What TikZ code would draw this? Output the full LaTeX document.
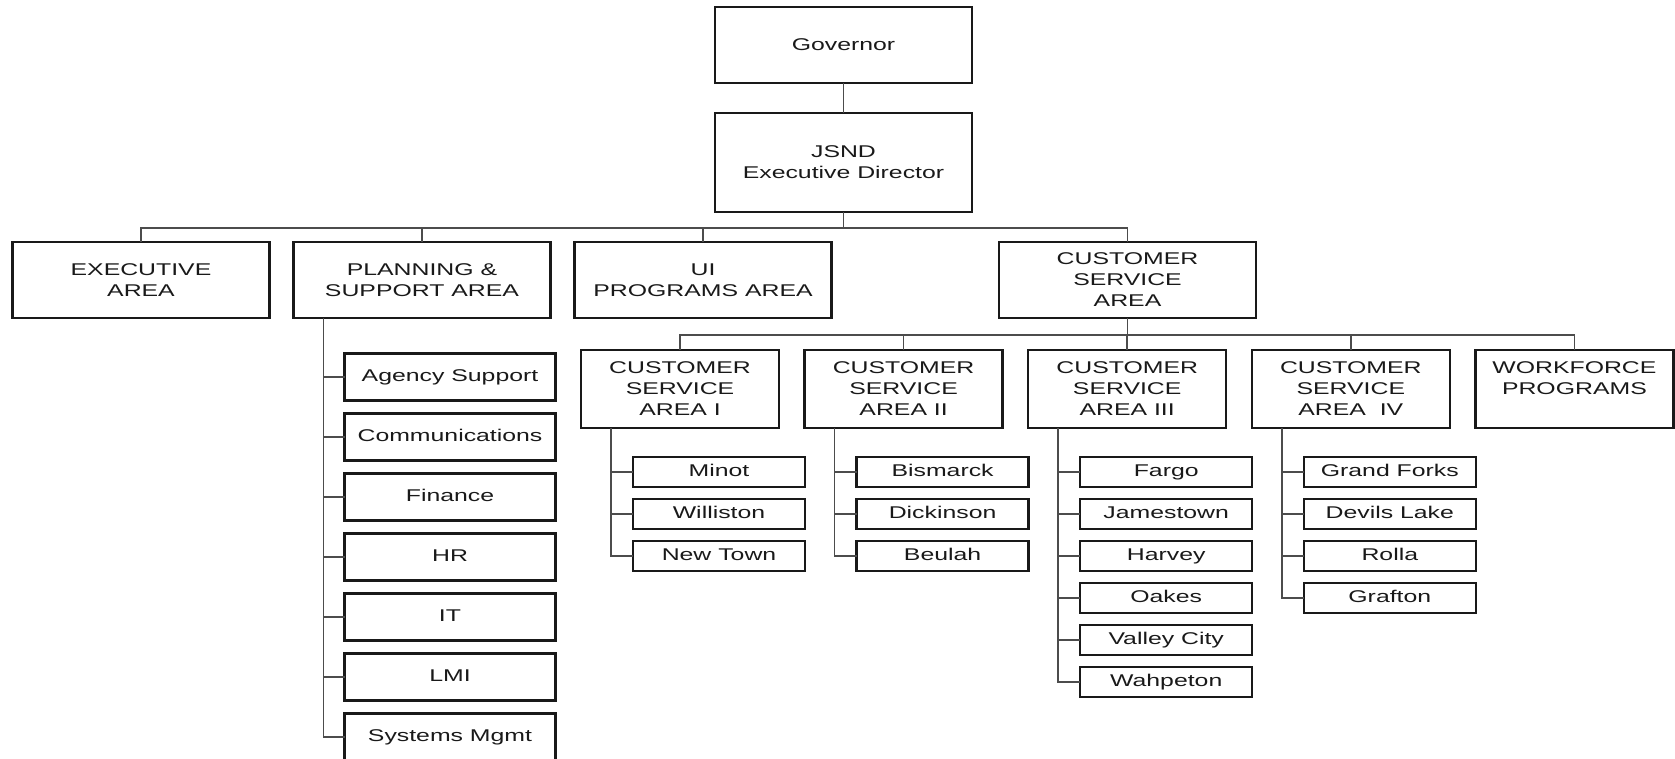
\documentclass[tikz,border=0pt]{standalone}
\usepackage{fontspec}
\setmainfont{Liberation Sans}[FakeStretch=1.46]
\usetikzlibrary{positioning}

\begin{document}
\begin{tikzpicture}[
x=1pt, y=-1pt,
font=\fontsize{17}{21}\selectfont,
node distance = 12pt and 52pt,
box/.style={rectangle, draw=black!90, line width=2.4pt, inner sep=0pt, outer sep=0pt, align=center, text=black!90},
head/.style={box, minimum width=257pt, minimum height=76pt},
area/.style={box, minimum width=198pt, minimum height=78pt},
unit/.style={box, minimum width=211pt, minimum height=47pt, text height=12pt, text depth=3.6pt},
office/.style={box, minimum width=172pt, minimum height=30pt, text height=12pt, text depth=3.6pt},
link/.style={draw=black!70, line width=1.5pt}]

\useasboundingbox (0,0) rectangle (1675,759);

\node[head] (gov) at (843.5,45) {Governor};
\node[head, minimum height=99pt] (jsnd) [below=30pt of gov] {JSND\\Executive Director};

\node[head] (exec) at (141,280) {EXECUTIVE\\AREA};
\node[head] (plan) at (422,280) {PLANNING \&\\SUPPORT AREA};
\node[head] (ui) at (703,280) {UI\\PROGRAMS AREA};
\node[head] (csa) at (1127.5,280) {CUSTOMER\\SERVICE\\AREA};

\node[area] (csa1) at (680,389) {CUSTOMER\\SERVICE\\AREA I};
\node[area] (csa2) [right=25.6pt of csa1] {CUSTOMER\\SERVICE\\AREA II};
\node[area] (csa3) [right=25.6pt of csa2] {CUSTOMER\\SERVICE\\AREA III};
\node[area] (csa4) [right=25.6pt of csa3] {CUSTOMER\\SERVICE\\AREA\ \ IV};
\node[area] (wf) [right=25.6pt of csa4] {WORKFORCE\\PROGRAMS\\\mbox{}};

% planning & support units
\node[unit] (agency) [below right=35.5pt and 51pt of plan.south west] {Agency Support};
\node[unit] (comms) [below=13pt of agency] {Communications};
\node[unit] (finance) [below=13pt of comms] {Finance};
\node[unit] (hr) [below=13pt of finance] {HR};
\node[unit] (it) [below=13pt of hr] {IT};
\node[unit] (lmi) [below=13pt of it] {LMI};
\node[unit] (sysmgmt) [below=13pt of lmi] {Systems Mgmt};

% offices
\node[office] (minot) [below right=29pt and 52pt of csa1.south west] {Minot};
\node[office] (williston) [below=of minot] {Williston};
\node[office] (newtown) [below=of williston] {New Town};

\node[office] (bismarck) [below right=29pt and 52pt of csa2.south west] {Bismarck};
\node[office] (dickinson) [below=of bismarck] {Dickinson};
\node[office] (beulah) [below=of dickinson] {Beulah};

\node[office] (fargo) [below right=29pt and 52pt of csa3.south west] {Fargo};
\node[office] (jamestown) [below=of fargo] {Jamestown};
\node[office] (harvey) [below=of jamestown] {Harvey};
\node[office] (oakes) [below=of harvey] {Oakes};
\node[office] (valley) [below=of oakes] {Valley City};
\node[office] (wahpeton) [below=of valley] {Wahpeton};

\node[office] (grandforks) [below right=29pt and 52pt of csa4.south west] {Grand Forks};
\node[office] (devils) [below=of grandforks] {Devils Lake};
\node[office] (rolla) [below=of devils] {Rolla};
\node[office] (grafton) [below=of rolla] {Grafton};

% connectors
\draw[link] (gov) -- (jsnd);
\foreach \n in {exec,plan,ui,csa}
  \draw[link] (jsnd.south) -- ++(0,16) -| (\n.north);
\foreach \n in {csa1,csa2,csa3,csa4,wf}
  \draw[link] (csa.south) -- ++(0,17) -| (\n.north);

\foreach \n in {agency,comms,finance,hr,it,lmi,sysmgmt}
  \draw[link] ([xshift=30pt]plan.south west) |- (\n.west);
\foreach \n in {minot,williston,newtown}
  \draw[link] ([xshift=30pt]csa1.south west) |- (\n.west);
\foreach \n in {bismarck,dickinson,beulah}
  \draw[link] ([xshift=30pt]csa2.south west) |- (\n.west);
\foreach \n in {fargo,jamestown,harvey,oakes,valley,wahpeton}
  \draw[link] ([xshift=30pt]csa3.south west) |- (\n.west);
\foreach \n in {grandforks,devils,rolla,grafton}
  \draw[link] ([xshift=30pt]csa4.south west) |- (\n.west);
\end{tikzpicture}
\end{document}
